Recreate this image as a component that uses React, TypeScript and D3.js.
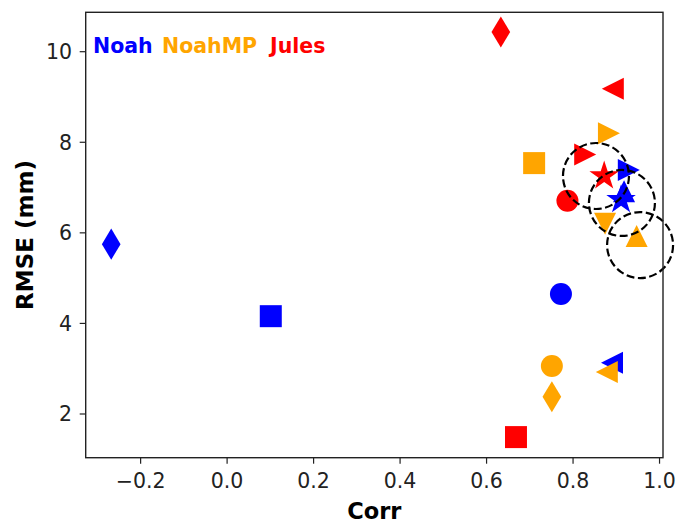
import React from "react";
import * as d3 from "d3";

// model colours / legend
const models = ["Noah", "NoahMP", "Jules"];
const colors = ["#0000ff", "#ffa500", "#ff0000"];

// Noah
const noahMarkers = ["d", "s", "o", "<", ">", "^", "*"];
const noahCorr = [-0.268, 0.101, 0.772, 0.89, 0.929, 0.918, 0.911];
const noahRmse = [5.75, 4.16, 4.65, 3.13, 7.39, 6.92, 6.73];

// NoahMP
const noahmpMarkers = ["s", ">", "v", "^", "o", "d", "<"];
const noahmpCorr = [0.71, 0.883, 0.874, 0.947, 0.751, 0.751, 0.878];
const noahmpRmse = [7.54, 8.2, 6.2, 5.93, 3.06, 2.38, 2.93];

// Jules
const julesMarkers = ["d", "<", ">", "*", "o", "s"];
const julesCorr = [0.633, 0.892, 0.828, 0.872, 0.787, 0.668];
const julesRmse = [10.435, 9.18, 7.73, 7.255, 6.71, 1.49];

// highlighted points (dashed circles)
const ringCorr = [0.853, 0.913, 0.955];
const ringRmse = [7.255, 6.66, 5.73];

const xTicks = [-0.2, 0.0, 0.2, 0.4, 0.6, 0.8, 1.0];
const yTicks = [2, 4, 6, 8, 10];

const W = 679, H = 524;
const left = 85.7, right = 663, top = 12.3, bottom = 457.7;
const ms = 22;
const font = "DejaVu Sans, sans-serif";

const x = d3.scaleLinear().domain([-0.327, 1.008]).range([left, right]);
const y = d3.scaleLinear().domain([1.035, 10.87]).range([bottom, top]);

const poly = d3.line().curve(d3.curveLinearClosed);

function markerPath(m: string): string {
  const h = ms / 2;
  if (m === "s") return poly([[-h, -h], [h, -h], [h, h], [-h, h]]) as string;
  if (m === "d") {
    const dh = (ms * Math.SQRT2) / 2, dw = dh * 0.6;
    return poly([[0, -dh], [dw, 0], [0, dh], [-dw, 0]]) as string;
  }
  if (m === "^") return poly([[0, -h], [h, h], [-h, h]]) as string;
  if (m === "v") return poly([[0, h], [h, -h], [-h, -h]]) as string;
  if (m === "<") return poly([[-h, 0], [h, -h], [h, h]]) as string;
  if (m === ">") return poly([[h, 0], [-h, -h], [-h, h]]) as string;
  if (m === "*") {
    const R = 15.5, r = R * 0.381966;
    const pts: [number, number][] = d3.range(10).map(i => {
      const a = (i * Math.PI) / 5;
      const rad = i % 2 === 0 ? R : r;
      return [rad * Math.sin(a), -rad * Math.cos(a)];
    });
    return poly(pts) as string;
  }
  return "";
}

function Marker(props: { m: string; cx: number; cy: number; color: string }) {
  const { m, cx, cy, color } = props;
  if (m === "o") return <circle cx={cx} cy={cy} r={ms / 2} fill={color} />;
  return <path d={markerPath(m)} transform={`translate(${cx},${cy})`} fill={color} />;
}

const series = [
  { markers: noahMarkers, corr: noahCorr, rmse: noahRmse },
  { markers: noahmpMarkers, corr: noahmpCorr, rmse: noahmpRmse },
  { markers: julesMarkers, corr: julesCorr, rmse: julesRmse },
];

const legendX = [93, 162, 270];
const fmt = d3.format(".1f");

export default function App() {
  return (
    <svg width={W} height={H} style={{ position: "absolute", left: 0, top: 0, background: "#fff" }}
      fontFamily={font}>
      <rect width={W} height={H} fill="#fff" />

      {series.map((s, si) =>
        s.markers.map((m, i) => (
          <Marker key={si + "-" + i} m={m} cx={x(s.corr[i])} cy={y(s.rmse[i])} color={colors[si]} />
        ))
      )}

      {ringCorr.map((c, i) => (
        <circle key={i} cx={x(c)} cy={y(ringRmse[i])} r={33} fill="none"
          stroke="#000" strokeWidth={2.2} strokeDasharray="8,3.5" />
      ))}

      {/* spines */}
      <rect x={left} y={top} width={right - left} height={bottom - top}
        fill="none" stroke="#222" strokeWidth={1.4} />

      {/* x axis */}
      {xTicks.map((t, i) => (
        <g key={i}>
          <line x1={x(t)} x2={x(t)} y1={bottom} y2={bottom + 6} stroke="#222" strokeWidth={1.2} />
          <text x={x(t)} y={488} textAnchor="middle" fontSize={20.5} fill="#222">{fmt(t)}</text>
        </g>
      ))}
      <text x={(left + right) / 2} y={519} textAnchor="middle" fontSize={22.5} fontWeight="bold">Corr</text>

      {/* y axis */}
      {yTicks.map((t, i) => (
        <g key={i}>
          <line x1={left - 6} x2={left} y1={y(t)} y2={y(t)} stroke="#222" strokeWidth={1.2} />
          <text x={72} y={y(t)} dy="0.36em" textAnchor="end" fontSize={20.5} fill="#222">{t}</text>
        </g>
      ))}
      <text transform={`translate(33,${(top + bottom) / 2}) rotate(-90)`} textAnchor="middle"
        fontSize={23} fontWeight="bold">RMSE (mm)</text>

      {/* legend */}
      {models.map((name, i) => (
        <text key={i} x={legendX[i]} y={53} fontSize={20.5} fontWeight="bold" fill={colors[i]}>{name}</text>
      ))}
    </svg>
  );
}
